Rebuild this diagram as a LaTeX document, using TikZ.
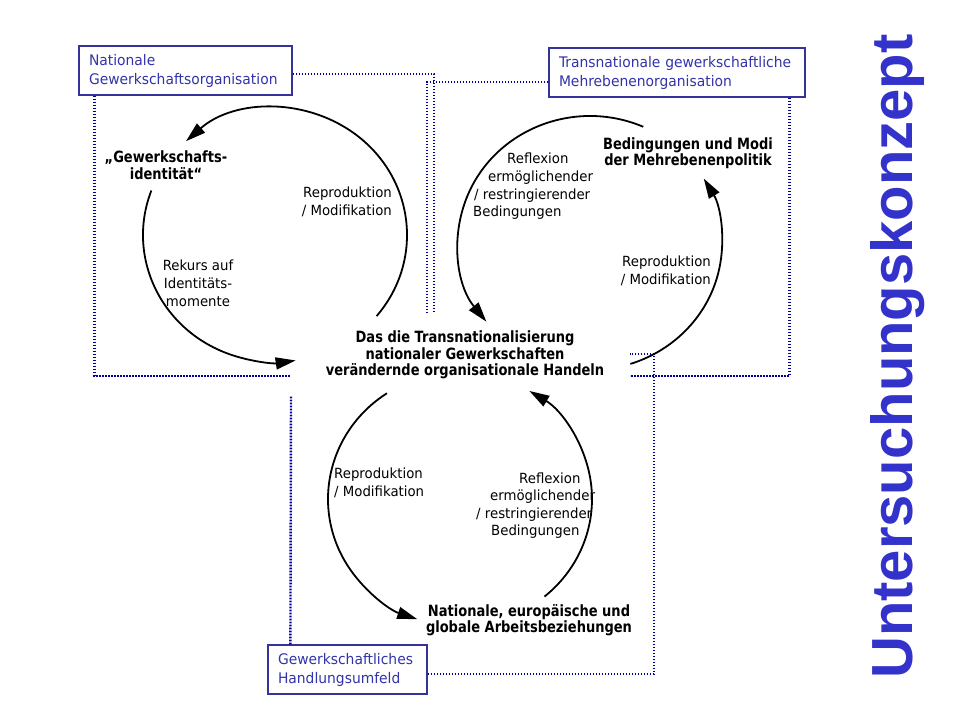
\documentclass[tikz,border=0pt]{standalone}
\usepackage{fontspec}
\usetikzlibrary{arrows.meta}
\newfontfamily\rf{DejaVu Sans}[FakeStretch=0.95]
\newfontfamily\boldf{DejaVu Sans Bold}[FakeStretch=0.84]
\newfontfamily\titlef{Liberation Sans Bold}
\definecolor{boxblue}{RGB}{51,51,153}
\definecolor{txtblue}{RGB}{51,51,170}
\definecolor{dotblue}{RGB}{0,0,150}
\definecolor{titleblue}{RGB}{51,51,204}
\begin{document}
\begin{tikzpicture}[x=1pt,y=-1pt,
  cyc/.style={line width=1.8pt, -{Triangle[length=20pt,width=12pt]}},
  dots/.style={dotblue, line width=2.4pt, dash pattern=on 1.8pt off 1.2pt},
  lbox/.style={draw=boxblue, line width=1.2pt, minimum height=49pt, inner xsep=10pt, inner ysep=0pt, align=left, text=txtblue, font=\rf\fontsize{14.6}{19}\selectfont},
  reg/.style={font=\rf\fontsize{14}{18}\selectfont, inner sep=0pt},
  bld/.style={font=\boldf\fontsize{15.5}{16.5}\selectfont, inner sep=0pt, align=center},
]
\fill[white] (0,0) rectangle (960,720);
\useasboundingbox (0,0) rectangle (960,720);

% label boxes
\node[lbox, text width=193pt] (nat) at (185.5,70.5) {Nationale\\Gewerkschaftsorganisation};
\node[lbox, text width=236pt] (tra) at (677,72.5) {Transnationale gewerkschaftliche\\Mehrebenenorganisation};
\node[lbox, text width=139pt] (hand) at (347.5,669.5) {Gewerkschaftliches\\Handlungsumfeld};

% dotted frames
\coordinate (n1) at (434,312);
\coordinate (n2) at (290,376);
\coordinate (t1) at (427,312);
\coordinate (t2) at (630,376);
\coordinate (h1) at (654,354);
\coordinate (h2) at (630,354);
\coordinate (h3) at (291,396);
\draw[dots] ([yshift=-3.5pt]nat.east) -| (n1);
\draw[dots] ([xshift=16pt]nat.south west) |- (n2);
\draw[dots] ([yshift=-9.5pt]tra.west) -| (t1);
\draw[dots] ([xshift=-16pt]tra.south east) |- (t2);
\draw[dots] ([yshift=-4.5pt]hand.east) -| (h1) -- (h2);
\draw[dots] ([xshift=23pt]hand.north west) -- (h3);

% circle centres
\coordinate (c1) at (275,235);
\coordinate (c2) at (590,243);
\coordinate (c3) at (460,499);

% cycles
\draw[cyc] (c1) ++(39.7:132 and 127) arc[start angle=39.7, end angle=-132.4, x radius=132, y radius=127];
\draw[cyc] (c1) ++(200.5:132 and 127) arc[start angle=200.5, end angle=81, x radius=132, y radius=127];
\draw[cyc] (c2) ++(-66.2:132 and 127) arc[start angle=-66.2, end angle=-218.3, x radius=132, y radius=127];
\draw[cyc] (c2) ++(72.2:132 and 127) arc[start angle=72.2, end angle=-30.5, x radius=132, y radius=127];
\draw[cyc] (c3) ++(236.4:132 and 127) arc[start angle=236.4, end angle=108.9, x radius=132, y radius=127];
\draw[cyc] (c3) ++(50.2:132 and 127) arc[start angle=50.2, end angle=-58.3, x radius=132, y radius=127];

% texts
\node[bld] (gi) at (166,165) {„Gewerkschafts-\\identität“};
\node[reg, align=right, anchor=east] (rep1) at (392,202) {Reproduktion\\/ Modifikation};
\node[reg, align=center] (rek) at (198,283) {Rekurs auf\\Identitäts-\\momente};
\node[bld] (mid) at (465,355) {Das die Transnationalisierung\\nationaler Gewerkschaften\\verändernde organisationale Handeln};

\node[reg, anchor=base west] (tra1) at (507,163) {Reflexion};
\node[reg, anchor=base west] (tra2) at (488,181) {ermöglichender};
\node[reg, anchor=base west] (tra3) at (474,199) {/ restringierender};
\node[reg, anchor=base west] (tra4) at (473,216) {Bedingungen};

\node[bld] (bm) at (688,153) {Bedingungen und Modi\\der Mehrebenenpolitik};
\node[reg, align=right, anchor=east] (rep2) at (711,270.5) {Reproduktion\\/ Modifikation};

\node[reg, align=left, anchor=west] (rep3) at (334,482.5) {Reproduktion\\/ Modifikation};
\node[reg, anchor=base west] (bra1) at (519,483) {Reflexion};
\node[reg, anchor=base west] (bra2) at (490,500) {ermöglichender};
\node[reg, anchor=base west] (bra3) at (476,518) {/ restringierender};
\node[reg, anchor=base west] (bra4) at (491,535) {Bedingungen};
\node[bld] (nab) at (529,620) {Nationale, europäische und\\globale Arbeitsbeziehungen};

% title
\node[font=\titlef\fontsize{58}{58}\selectfont, text=titleblue, rotate=90, anchor=base, inner sep=0pt] (title) at (912,356.5) {Untersuchungskonzept};
\end{tikzpicture}
\end{document}
